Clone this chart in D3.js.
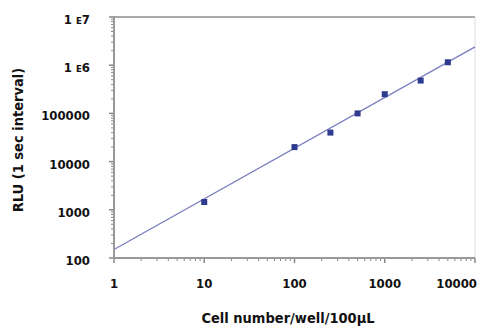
<!DOCTYPE html>
<html><head><meta charset="utf-8">
<script src="https://cdn.jsdelivr.net/npm/d3@7"></script>
<style>
body{margin:0;background:#fff;}
text{font-family:"DejaVu Sans Condensed","DejaVu Sans",sans-serif;font-weight:bold;fill:#111;}
</style></head>
<body><svg id="c" width="478" height="331"></svg>
<script>
const cellNumbers = [10, 100, 250, 500, 1000, 2500, 5000];
const rluValues = [1450, 20000, 40000, 100000, 250000, 480000, 1150000];
const fitX = [1, 10000];
const fitY = [150, 2400000];
const xTicks = [1, 10, 100, 1000, 10000];
const xTickLabels = ["1", "10", "100", "1000", "10000"];
const yTicks = [100, 1000, 10000, 100000, 1000000, 10000000];
const yTickLabels = ["100", "1000", "10000", "100000", "1 E6", "1 E7"];
const xTitle = "Cell number/well/100µL";
const yTitle = "RLU (1 sec interval)";

const svg = d3.select("#c");
const L = 114, R = 475, T = 17, B = 258;
const x = d3.scaleLog().domain([1, 10000]).range([L, R]);
const y = d3.scaleLog().domain([100, 10000000]).range([B, T]);

// frame: top and right
svg.append("line").attr("x1", L).attr("x2", R).attr("y1", T).attr("y2", T)
  .attr("stroke", "#aaa").attr("stroke-width", 2);
svg.append("line").attr("x1", R).attr("x2", R).attr("y1", T).attr("y2", B)
  .attr("stroke", "#ddd").attr("stroke-width", 1);

// minor ticks
const minorX = [], minorY = [];
for (let d = 1; d < 10000; d *= 10) for (let k = 2; k <= 9; k++) minorX.push(d * k);
for (let d = 100; d < 10000000; d *= 10) for (let k = 2; k <= 9; k++) minorY.push(d * k);

const gx = svg.append("g");
gx.selectAll(".mx").data(minorX).join("line")
  .attr("x1", d => x(d)).attr("x2", d => x(d)).attr("y1", B).attr("y2", B + 3)
  .attr("stroke", "#888").attr("stroke-width", 1);
gx.selectAll(".Mx").data(xTicks).join("line")
  .attr("x1", d => x(d)).attr("x2", d => x(d)).attr("y1", B).attr("y2", B + 5)
  .attr("stroke", "#888").attr("stroke-width", 1.5);
gx.append("line").attr("x1", L - 1).attr("x2", R).attr("y1", B).attr("y2", B)
  .attr("stroke", "#999").attr("stroke-width", 2);
gx.selectAll(".lx").data(xTicks).join("text")
  .attr("x", (d, i) => i === xTicks.length - 1 ? 477 : x(d))
  .attr("y", 288)
  .attr("text-anchor", (d, i) => i === xTicks.length - 1 ? "end" : "middle")
  .attr("font-size", 13)
  .text((d, i) => xTickLabels[i]);

const gy = svg.append("g");
gy.selectAll(".my").data(minorY).join("line")
  .attr("x1", L - 3).attr("x2", L).attr("y1", d => y(d)).attr("y2", d => y(d))
  .attr("stroke", "#888").attr("stroke-width", 1);
gy.selectAll(".My").data(yTicks).join("line")
  .attr("x1", L - 5).attr("x2", L).attr("y1", d => y(d)).attr("y2", d => y(d))
  .attr("stroke", "#888").attr("stroke-width", 1.5);
gy.append("line").attr("x1", L).attr("x2", L).attr("y1", T - 1).attr("y2", B + 1)
  .attr("stroke", "#999").attr("stroke-width", 2);
gy.selectAll(".ly").data(yTicks).join("text")
  .attr("x", 90).attr("y", d => y(d) + 7)
  .attr("text-anchor", "end").attr("font-size", 13)
  .each(function(d, i) {
    const t = d3.select(this), s = yTickLabels[i];
    const m = s.match(/^(\d+) E(\d+)$/);
    if (m) {
      t.append("tspan").text(m[1] + " ");
      t.append("tspan").attr("font-size", 9.5).text("E");
      t.append("tspan").text(m[2]);
    } else t.text(s);
  });

// fit line
svg.append("line")
  .attr("x1", x(fitX[0])).attr("y1", y(fitY[0]))
  .attr("x2", x(fitX[1])).attr("y2", y(fitY[1]))
  .attr("stroke", "#7c80c0").attr("stroke-width", 1.4);

// points
svg.selectAll(".pt").data(cellNumbers).join("rect")
  .attr("x", d => x(d) - 3).attr("y", (d, i) => y(rluValues[i]) - 3)
  .attr("width", 6).attr("height", 6)
  .attr("fill", "#2d3a8e");

// titles
svg.append("text").attr("x", 288).attr("y", 323).attr("text-anchor", "middle")
  .attr("font-size", 14.5).text(xTitle);
svg.append("text").attr("transform", "translate(23,140) rotate(-90)")
  .attr("text-anchor", "middle").attr("font-size", 14.5).text(yTitle);
</script></body></html>
